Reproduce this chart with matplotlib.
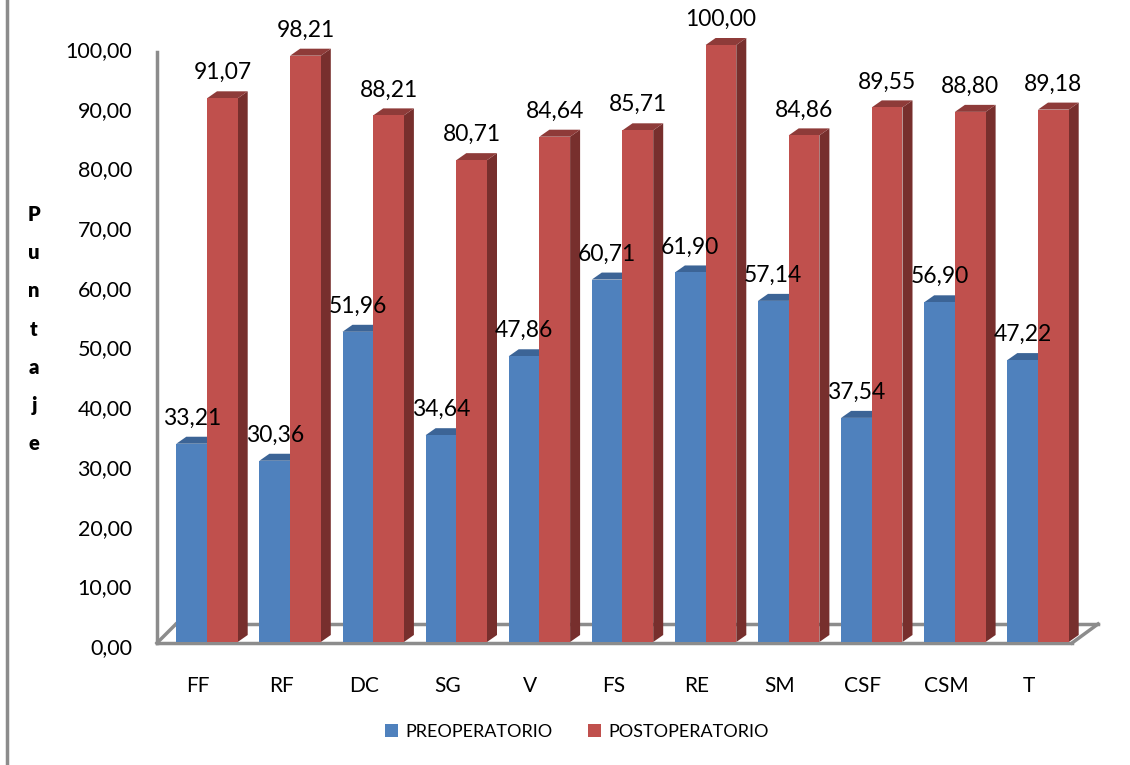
import matplotlib
matplotlib.use('Agg')
import matplotlib.pyplot as plt
from matplotlib.patches import Polygon, Rectangle
from matplotlib.lines import Line2D

categorias = ['FF', 'RF', 'DC', 'SG', 'V', 'FS', 'RE', 'SM', 'CSF', 'CSM', 'T']
preoperatorio = [33.21, 30.36, 51.96, 34.64, 47.86, 60.71, 61.90, 57.14, 37.54, 56.90, 47.22]
postoperatorio = [91.07, 98.21, 88.21, 80.71, 84.64, 85.71, 100.00, 84.86, 89.55, 88.80, 89.18]
yticks = [0, 10, 20, 30, 40, 50, 60, 70, 80, 90, 100]

plt.rcParams['font.family'] = ['Lato', 'DejaVu Sans']

W, H = 1130, 765
fig = plt.figure(figsize=(W / 100, H / 100), dpi=100)

# pixel geometry of the reference
x0_px, step_px = 207.0, 83.1      # group centre of first category, spacing
y0_px, unit_px = 642.0, 5.97      # value 0, pixels per unit
xlim = (-0.602, 10.75)
ylim = (-1.0, 102.0)
left = x0_px + xlim[0] * step_px
right = x0_px + xlim[1] * step_px
bottom = y0_px - ylim[0] * unit_px
top = y0_px - ylim[1] * unit_px
ax = fig.add_axes([left / W, 1 - bottom / H, (right - left) / W, (bottom - top) / H])
ax.set_xlim(*xlim)
ax.set_ylim(*ylim)
ax.axis('off')

bw = 30.7 / step_px
dx = 10.0 / step_px
dy = 7.0 / unit_px

colores = {
    'pre': ('#4F81BD', '#3C6496', '#385D8A'),
    'post': ('#C0504D', '#8E3B39', '#772F2D'),
}

# floor and vertical axis
gris = '#8C8C8C'
fy0 = -0.17
fy1 = (y0_px - 624) / unit_px
fx_l0, fx_l1 = xlim[0], (176 - x0_px) / step_px
fx_r0, fx_r1 = (1072 - x0_px) / step_px, (1098 - x0_px) / step_px
ax.plot([fx_l0, fx_r0], [fy0, fy0], color=gris, lw=2.5, zorder=1, clip_on=False)
ax.plot([fx_l1, fx_r1], [fy1, fy1], color=gris, lw=2.5, zorder=0.5, clip_on=False)
ax.plot([fx_l0, fx_l1], [fy0, fy1], color=gris, lw=2.5, zorder=0.5, clip_on=False)
ax.plot([fx_r0, fx_r1], [fy0, fy1], color=gris, lw=2.5, zorder=0.5, clip_on=False)
ax.plot([xlim[0], xlim[0]], [fy0, (y0_px - 52) / unit_px], color=gris, lw=2.5, clip_on=False)


def barra(x, v, key, z):
    front, topc, side = colores[key]
    ax.add_patch(Polygon([(x + bw, 0), (x + bw + dx, dy), (x + bw + dx, v + dy), (x + bw, v)],
                         closed=True, facecolor=side, edgecolor='none', zorder=z))
    ax.add_patch(Polygon([(x, v), (x + dx, v + dy), (x + bw + dx, v + dy), (x + bw, v)],
                         closed=True, facecolor=topc, edgecolor='none', zorder=z))
    ax.add_patch(Rectangle((x, 0), bw, v, facecolor=front, edgecolor='none', zorder=z))


for i, (a, b) in enumerate(zip(preoperatorio, postoperatorio)):
    barra(i - bw, a, 'pre', 2 + i * 0.01)
    barra(i, b, 'post', 2 + i * 0.01 + 0.005)

for i, (a, b) in enumerate(zip(preoperatorio, postoperatorio)):
    for x, v in ((i - bw / 2, a), (i + bw / 2, b)):
        ax.annotate(f'{v:.2f}'.replace('.', ','), (x, v), xytext=(0, 13.7), textcoords='offset points',
                    ha='center', va='baseline', fontsize=16.5, color='black', zorder=5,
                    annotation_clip=False)

# category labels
for i, c in enumerate(categorias):
    ax.text(i - 9 / step_px, (y0_px - 686) / unit_px, c, ha='center', va='center',
            fontsize=15, clip_on=False)

# value axis labels
for t in yticks:
    ax.text(xlim[0] - 25 / step_px, t - 6 / unit_px, f'{t:.2f}'.replace('.', ','),
            ha='right', va='center', fontsize=15.5, clip_on=False)

fig.text(34 / W, 1 - 329 / H, 'P\nu\nn\nt\na\nj\ne', ha='center', va='center',
         fontsize=14.5, fontweight='heavy', linespacing=2.2)

handles = [Rectangle((0, 0), 1, 1, facecolor=colores['pre'][0]),
           Rectangle((0, 0), 1, 1, facecolor=colores['post'][0])]
fig.legend(handles, ['PREOPERATORIO', 'POSTOPERATORIO'], loc='center', ncol=2,
           bbox_to_anchor=(577 / W, 1 - 732 / H), frameon=False, fontsize=13,
           handlelength=0.7, handleheight=0.7, handletextpad=0.4, columnspacing=2.0)

fig.add_artist(Line2D([7 / W, 7 / W], [0, 1], color=gris, lw=2.5))

fig.savefig('out.png', dpi=100)
